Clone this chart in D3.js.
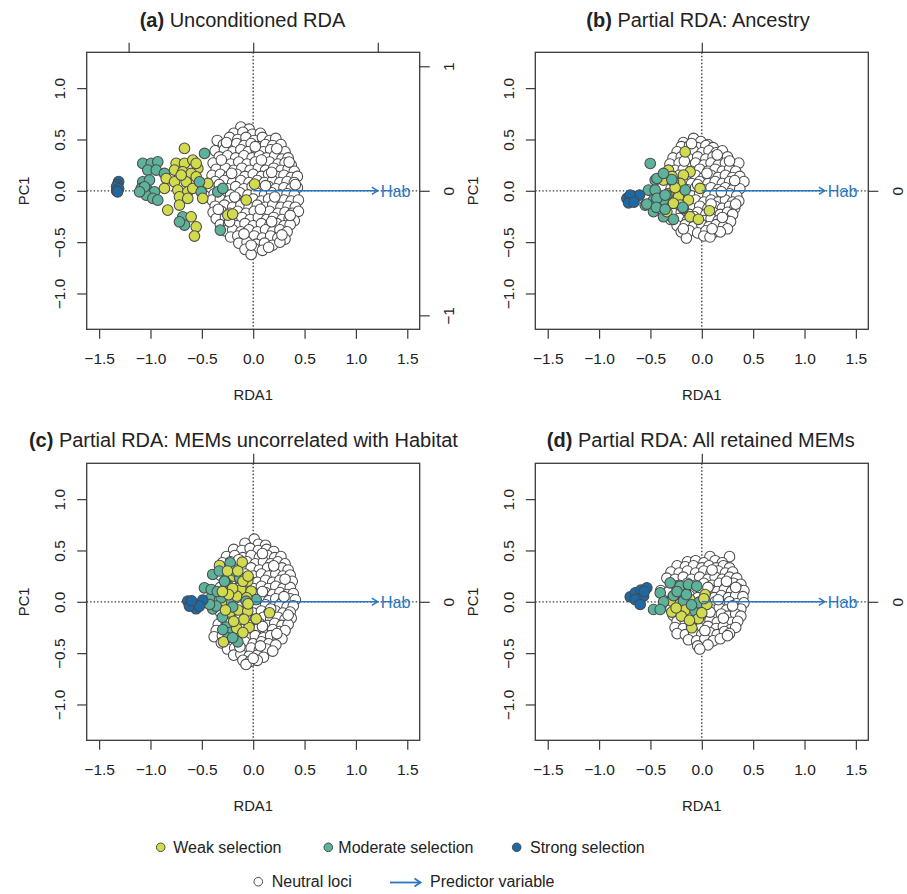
<!DOCTYPE html>
<html>
<head>
<meta charset="utf-8">
<script src="https://cdn.jsdelivr.net/npm/d3@7"></script>
<style>
  body { margin: 0; background: #fff; }
  svg { display: block; }
  text { font-family: "Liberation Sans", Arial, Helvetica, sans-serif; fill: #222; }
</style>
</head>
<body>
<svg id="chart" width="907" height="894"></svg>
<script>
// ---------- data ----------
const panelLetters = ["(a)", "(b)", "(c)", "(d)"];
const panelTitles = [
  "Unconditioned RDA",
  "Partial RDA: Ancestry",
  "Partial RDA: MEMs uncorrelated with Habitat",
  "Partial RDA: All retained MEMs"
];
const xTicks = [-1.5, -1.0, -0.5, 0.0, 0.5, 1.0, 1.5];
const yTicks = [-1.0, -0.5, 0.0, 0.5, 1.0];
// ticks of the predictor (biplot) scale on the top and right sides
const secTicks = [[-1, 0, 1], [0], [0], [0]];
// RDA1 position reached by the Hab arrow (= biplot scale factor)
const habEnd = [1.213, 1.198, 1.213, 1.198];
const predictorName = "Hab";

// (a) Unconditioned RDA
const neutralA = [
[-0.12,0.62],[-0.04,0.60],[-0.19,0.56],[-0.10,0.57],[-0.01,0.55],[0.07,0.56],
[-0.35,0.49],[-0.23,0.52],[-0.15,0.50],[-0.07,0.52],[0.01,0.49],[0.09,0.52],[0.16,0.49],[0.22,0.51],
[-0.29,0.45],[-0.22,0.44],[-0.16,0.46],[-0.09,0.44],[-0.02,0.46],[0.05,0.43],[0.12,0.45],[0.19,0.44],[0.27,0.45],
[-0.37,0.39],[-0.28,0.40],[-0.20,0.38],[-0.12,0.40],[-0.05,0.38],[0.03,0.40],[0.10,0.38],[0.17,0.40],[0.24,0.37],[0.31,0.38],
[-0.33,0.33],[-0.25,0.34],[-0.17,0.32],[-0.09,0.34],[-0.01,0.32],[0.06,0.34],[0.13,0.32],[0.21,0.34],[0.28,0.31],[0.34,0.32],
[-0.39,0.27],[-0.30,0.28],[-0.22,0.26],[-0.14,0.28],[-0.06,0.26],[0.02,0.28],[0.09,0.26],[0.16,0.28],[0.24,0.26],[0.31,0.27],[0.37,0.25],
[-0.36,0.21],[-0.27,0.22],[-0.19,0.20],[-0.11,0.22],[-0.03,0.20],[0.05,0.22],[0.12,0.20],[0.20,0.22],[0.27,0.20],[0.34,0.21],[0.40,0.19],
[-0.40,0.15],[-0.32,0.16],[-0.24,0.14],[-0.16,0.16],[-0.08,0.14],[0.00,0.16],[0.08,0.14],[0.15,0.16],[0.23,0.14],[0.30,0.15],[0.37,0.13],[0.43,0.14],
[-0.37,0.09],[-0.28,0.10],[-0.20,0.08],[-0.12,0.10],[-0.04,0.08],[0.04,0.10],[0.11,0.08],[0.19,0.10],[0.26,0.08],[0.33,0.09],[0.40,0.08],
[-0.41,0.03],[-0.33,0.04],[-0.25,0.02],[-0.17,0.04],[-0.09,0.02],[-0.01,0.04],[0.07,0.02],[0.15,0.04],[0.22,0.02],[0.30,0.03],[0.37,0.02],[0.43,0.03],
[-0.38,-0.03],[-0.30,-0.02],[-0.22,-0.04],[-0.13,-0.02],[-0.05,-0.04],[0.03,-0.02],[0.11,-0.04],[0.18,-0.02],[0.26,-0.04],[0.33,-0.03],[0.40,-0.04],
[-0.40,-0.09],[-0.32,-0.08],[-0.24,-0.10],[-0.16,-0.08],[-0.08,-0.10],[0.00,-0.08],[0.08,-0.10],[0.15,-0.08],[0.23,-0.10],[0.30,-0.09],[0.37,-0.10],[0.44,-0.09],
[-0.37,-0.15],[-0.28,-0.14],[-0.20,-0.16],[-0.12,-0.14],[-0.04,-0.16],[0.04,-0.14],[0.12,-0.16],[0.19,-0.14],[0.27,-0.16],[0.34,-0.15],[0.41,-0.16],
[-0.39,-0.21],[-0.31,-0.20],[-0.23,-0.22],[-0.15,-0.20],[-0.07,-0.22],[0.01,-0.20],[0.09,-0.22],[0.16,-0.20],[0.24,-0.22],[0.31,-0.21],[0.38,-0.22],[0.44,-0.20],
[-0.36,-0.27],[-0.27,-0.26],[-0.19,-0.28],[-0.11,-0.26],[-0.03,-0.28],[0.05,-0.26],[0.13,-0.28],[0.20,-0.26],[0.28,-0.28],[0.35,-0.27],[0.40,-0.29],
[-0.32,-0.33],[-0.24,-0.32],[-0.16,-0.34],[-0.08,-0.32],[0.00,-0.34],[0.08,-0.32],[0.16,-0.34],[0.23,-0.32],[0.30,-0.34],[0.36,-0.33],
[-0.27,-0.39],[-0.20,-0.38],[-0.12,-0.40],[-0.04,-0.38],[0.04,-0.40],[0.12,-0.38],[0.19,-0.40],[0.26,-0.38],[0.33,-0.40],
[-0.22,-0.45],[-0.15,-0.44],[-0.07,-0.46],[0.01,-0.44],[0.09,-0.46],[0.17,-0.44],[0.24,-0.46],[0.31,-0.47],
[-0.14,-0.51],[-0.06,-0.50],[0.03,-0.52],[0.11,-0.51],[0.19,-0.53],[0.26,-0.50],
[-0.08,-0.57],[0.01,-0.56],[0.09,-0.58],[-0.02,-0.62],
[-0.26,0.47],[0.02,0.43],[0.23,0.41],[-0.31,0.30],[0.08,0.30],[0.35,0.28],[-0.21,0.17],[0.18,0.18],
[-0.33,0.06],[0.12,0.05],[0.41,0.06],[-0.18,-0.06],[0.21,-0.06],[-0.34,-0.18],[0.07,-0.18],[0.36,-0.24],
[-0.23,-0.30],[0.18,-0.30],[-0.09,-0.42],[0.28,-0.43],[-0.02,-0.53],[0.15,-0.55]
];
const moderateA = [
[-1.075,0.267],[-0.993,0.267],[-0.929,0.282],[-1.026,0.202],[-0.944,0.202],[-0.864,0.169],
[-1.075,0.088],[-1.010,0.104],[-1.090,0.023],[-1.026,0.007],[-0.961,-0.010],[-1.042,-0.042],
[-0.977,-0.074],[-0.929,-0.091],[-1.058,0.039],[-1.106,-0.010],
[-0.523,0.088],[-0.506,-0.010],[-0.474,0.364],[-0.345,-0.010],[-0.296,0.023],
[-0.686,-0.253],[-0.669,-0.334],[-0.718,-0.302],[-0.320,-0.383]
];
const weakA = [
[-0.669,0.413],[-0.750,0.267],[-0.669,0.267],[-0.588,0.299],[-0.539,0.218],[-0.766,0.202],
[-0.686,0.185],[-0.604,0.169],[-0.847,0.120],[-0.766,0.088],[-0.652,0.088],[-0.555,0.136],
[-0.734,0.007],[-0.637,-0.010],[-0.588,0.023],[-0.442,0.072],[-0.718,-0.058],[-0.637,-0.074],
[-0.491,-0.074],[-0.718,-0.139],[-0.832,-0.188],[-0.604,-0.253],[-0.555,-0.351],[-0.572,-0.441],
[-0.864,0.023],[-0.701,0.153],[-0.555,0.267],[0.013,0.065],[-0.068,-0.090],[-0.247,-0.237],[-0.200,-0.227]
];
const strongA = [
[-1.31,0.09],[-1.32,0.06],[-1.33,0.04],[-1.31,0.02],[-1.33,0.00],[-1.32,-0.01]
];

// (b) Partial RDA: Ancestry
const neutralB = [
[-0.08,0.51],[-0.18,0.47],[-0.01,0.48],[0.06,0.45],
[-0.20,0.43],[-0.12,0.44],[-0.04,0.42],[0.04,0.44],[0.11,0.42],
[-0.24,0.38],[-0.16,0.37],[-0.08,0.39],[0.00,0.37],[0.07,0.39],[0.14,0.37],[0.20,0.39],
[-0.28,0.32],[-0.20,0.33],[-0.12,0.31],[-0.04,0.33],[0.04,0.31],[0.11,0.33],[0.18,0.31],[0.25,0.33],
[-0.31,0.26],[-0.22,0.27],[-0.14,0.25],[-0.06,0.27],[0.02,0.25],[0.09,0.27],[0.16,0.25],[0.23,0.27],[0.30,0.25],[0.36,0.27],
[-0.26,0.20],[-0.18,0.21],[-0.10,0.19],[-0.02,0.21],[0.06,0.19],[0.13,0.21],[0.20,0.19],[0.27,0.21],[0.33,0.19],
[-0.30,0.14],[-0.22,0.15],[-0.14,0.13],[-0.06,0.15],[0.02,0.13],[0.09,0.15],[0.16,0.13],[0.23,0.15],[0.30,0.13],[0.37,0.14],
[-0.26,0.08],[-0.18,0.09],[-0.10,0.07],[-0.02,0.09],[0.06,0.07],[0.13,0.09],[0.20,0.07],[0.27,0.09],[0.34,0.07],[0.41,0.09],
[-0.30,0.02],[-0.22,0.03],[-0.14,0.01],[-0.06,0.03],[0.02,0.01],[0.09,0.03],[0.16,0.01],[0.23,0.03],[0.30,0.01],[0.37,0.02],
[-0.26,-0.04],[-0.18,-0.03],[-0.10,-0.05],[-0.02,-0.03],[0.06,-0.05],[0.13,-0.03],[0.20,-0.05],[0.27,-0.03],[0.34,-0.05],
[-0.30,-0.10],[-0.22,-0.09],[-0.14,-0.11],[-0.06,-0.09],[0.02,-0.11],[0.09,-0.09],[0.16,-0.11],[0.23,-0.09],[0.30,-0.11],[0.36,-0.10],
[-0.26,-0.16],[-0.18,-0.15],[-0.10,-0.17],[-0.02,-0.15],[0.06,-0.17],[0.13,-0.15],[0.20,-0.17],[0.27,-0.15],[0.32,-0.17],
[-0.28,-0.22],[-0.20,-0.21],[-0.12,-0.23],[-0.04,-0.21],[0.04,-0.23],[0.11,-0.21],[0.18,-0.23],[0.25,-0.21],[0.30,-0.23],
[-0.30,-0.28],[-0.22,-0.27],[-0.14,-0.29],[-0.06,-0.27],[0.02,-0.29],[0.09,-0.27],[0.16,-0.29],[0.23,-0.28],[0.28,-0.30],
[-0.24,-0.34],[-0.16,-0.33],[-0.08,-0.35],[0.00,-0.33],[0.07,-0.35],[0.14,-0.33],[0.21,-0.35],[0.25,-0.37],
[-0.20,-0.40],[-0.12,-0.39],[-0.04,-0.41],[0.04,-0.39],[0.11,-0.41],[0.18,-0.40],
[-0.15,-0.46],[0.02,-0.44],[0.08,-0.45],
[-0.10,0.46],[0.15,0.35],[-0.17,0.29],[0.27,0.29],[0.05,0.17],[0.32,0.10],[-0.04,0.06],[0.19,-0.01],
[0.09,-0.13],[0.33,-0.13],[-0.08,-0.25],[0.20,-0.26],[-0.18,-0.37],[0.10,-0.37]
];
const moderateB = [
[-0.502,0.266],[-0.454,0.104],[-0.519,0.007],[-0.470,-0.090],[-0.551,-0.139],[-0.454,-0.139],
[-0.373,-0.253],[-0.470,-0.204],[-0.276,0.088],[-0.162,0.007],[-0.179,-0.171],[-0.340,-0.042],
[-0.373,-0.090],[-0.437,0.120],[-0.454,0.007],[-0.437,-0.074],[-0.357,-0.042],[-0.535,-0.129],
[-0.443,-0.161],[-0.357,-0.180],[-0.276,-0.278],[-0.292,0.110],[-0.373,0.169],[-0.185,-0.161]
];
const weakB = [
[-0.162,0.379],[-0.324,0.201],[-0.114,0.185],[-0.179,0.153],[-0.373,0.104],[-0.211,0.072],
[-0.017,0.023],[-0.324,-0.026],[-0.227,-0.058],[-0.373,-0.107],[-0.130,-0.090],[-0.340,-0.204],
[-0.211,-0.139],[-0.114,-0.253],[-0.033,-0.278],[0.074,-0.194],[-0.276,-0.122],[-0.260,0.030],[-0.290,0.140]
];
const strongB = [
[-0.729,-0.074],[-0.680,-0.097],[-0.648,-0.058],[-0.606,-0.042],[-0.697,-0.042],[-0.713,-0.117],[-0.660,-0.110]
];

// (c) Partial RDA: MEMs uncorrelated with Habitat
const neutralC = [
[0.01,0.61],[-0.08,0.57],[0.05,0.56],[0.12,0.55],
[-0.19,0.51],[-0.11,0.50],[-0.03,0.52],[0.05,0.50],[0.13,0.51],[0.20,0.49],
[-0.26,0.44],[-0.18,0.45],[-0.10,0.43],[-0.02,0.45],[0.06,0.43],[0.14,0.45],[0.21,0.43],[0.27,0.44],
[-0.30,0.38],[-0.22,0.39],[-0.14,0.37],[-0.06,0.39],[0.02,0.37],[0.10,0.39],[0.17,0.37],[0.24,0.39],[0.31,0.37],
[-0.26,0.32],[-0.18,0.33],[-0.10,0.31],[-0.02,0.33],[0.06,0.31],[0.14,0.33],[0.21,0.31],[0.28,0.33],[0.34,0.31],
[-0.32,0.26],[-0.24,0.27],[-0.16,0.25],[-0.08,0.27],[0.00,0.25],[0.08,0.27],[0.15,0.25],[0.22,0.27],[0.29,0.25],[0.36,0.26],
[-0.28,0.20],[-0.20,0.21],[-0.12,0.19],[-0.04,0.21],[0.04,0.19],[0.12,0.21],[0.19,0.19],[0.26,0.21],[0.33,0.19],[0.38,0.20],
[-0.32,0.14],[-0.24,0.15],[-0.16,0.13],[-0.08,0.15],[0.00,0.13],[0.08,0.15],[0.15,0.13],[0.22,0.15],[0.29,0.13],[0.36,0.14],
[-0.28,0.08],[-0.20,0.09],[-0.12,0.07],[-0.04,0.09],[0.04,0.07],[0.12,0.09],[0.19,0.07],[0.26,0.09],[0.33,0.07],[0.39,0.08],
[-0.32,0.02],[-0.24,0.03],[-0.16,0.01],[-0.08,0.03],[0.00,0.01],[0.08,0.03],[0.15,0.01],[0.22,0.03],[0.29,0.01],[0.36,0.03],[0.41,0.02],
[-0.28,-0.04],[-0.20,-0.03],[-0.12,-0.05],[-0.04,-0.03],[0.04,-0.05],[0.12,-0.03],[0.19,-0.05],[0.26,-0.03],[0.33,-0.05],[0.39,-0.04],
[-0.32,-0.10],[-0.24,-0.09],[-0.16,-0.11],[-0.08,-0.09],[0.00,-0.11],[0.08,-0.09],[0.15,-0.11],[0.22,-0.09],[0.29,-0.11],[0.36,-0.10],
[-0.30,-0.16],[-0.22,-0.15],[-0.14,-0.17],[-0.06,-0.15],[0.02,-0.17],[0.10,-0.15],[0.17,-0.17],[0.24,-0.15],[0.31,-0.17],[0.37,-0.16],
[-0.34,-0.22],[-0.26,-0.21],[-0.18,-0.23],[-0.10,-0.21],[-0.02,-0.23],[0.06,-0.21],[0.14,-0.23],[0.21,-0.21],[0.28,-0.23],[0.34,-0.22],
[-0.36,-0.28],[-0.28,-0.27],[-0.20,-0.29],[-0.12,-0.27],[-0.04,-0.29],[0.04,-0.27],[0.12,-0.29],[0.19,-0.27],[0.26,-0.29],[0.31,-0.28],
[-0.38,-0.34],[-0.30,-0.33],[-0.22,-0.35],[-0.14,-0.33],[-0.06,-0.35],[0.02,-0.33],[0.10,-0.35],[0.17,-0.33],[0.24,-0.35],[0.28,-0.36],
[-0.31,-0.40],[-0.24,-0.39],[-0.16,-0.41],[-0.08,-0.39],[0.00,-0.41],[0.08,-0.39],[0.15,-0.41],[0.22,-0.42],
[-0.25,-0.46],[-0.18,-0.45],[-0.10,-0.47],[-0.02,-0.45],[0.06,-0.47],[0.13,-0.46],[0.19,-0.48],
[-0.19,-0.52],[-0.12,-0.51],[-0.04,-0.53],[0.04,-0.52],[0.10,-0.54],
[-0.10,-0.57],[-0.03,-0.58],[0.04,-0.57],[-0.07,-0.61],
[0.09,0.47],[-0.14,0.41],[0.20,0.35],[0.31,0.22],[0.09,0.10],[0.30,0.05],[0.17,-0.07],[0.34,-0.13],
[0.09,-0.24],[0.23,-0.31],[-0.13,-0.44],[0.07,-0.43],[0.00,-0.55]
];
const moderateC = [
[-0.224,0.380],[-0.127,0.234],[-0.394,0.266],[-0.475,0.136],[-0.270,0.185],[-0.410,0.039],
[-0.224,0.006],[0.029,0.022],[-0.394,-0.070],[-0.263,-0.245],[-0.224,-0.300],[-0.150,-0.390],
[-0.280,0.200],[-0.312,0.039],[-0.068,0.006],[-0.360,-0.042],[-0.425,-0.026],[-0.248,-0.351],
[-0.296,-0.270],[-0.409,0.120],[-0.134,0.234],[-0.330,0.300],[-0.180,0.300],[-0.350,0.100],
[-0.200,-0.050],[-0.300,-0.150],[-0.200,-0.350]
];
const weakC = [
[-0.328,0.354],[-0.107,0.386],[-0.263,0.217],[-0.190,0.250],[-0.053,0.201],[-0.120,0.120],
[-0.020,0.103],[-0.328,0.020],[-0.160,0.055],[-0.063,0.039],[-0.310,-0.010],[-0.224,-0.100],
[-0.146,-0.080],[-0.053,-0.090],[0.159,-0.107],[0.029,-0.166],[-0.040,-0.250],[-0.160,-0.260],
[-0.290,-0.390],[-0.200,0.130],[-0.240,0.070],[-0.090,-0.170],[-0.190,-0.190],
[-0.250,0.300],[-0.150,0.300],[-0.300,0.100],[-0.100,0.200],[-0.050,-0.020],[-0.270,-0.080],
[-0.100,-0.300],[-0.050,0.250]
];
const strongC = [
[-0.637,0.006],[-0.589,-0.026],[-0.556,-0.068],[-0.491,0.016],[-0.621,-0.042],[-0.523,-0.042],[-0.600,0.010]
];

// (d) Partial RDA: All retained MEMs
const neutralD = [
[0.08,0.44],[0.27,0.44],
[-0.14,0.39],[-0.06,0.40],[0.02,0.38],[0.13,0.40],[0.20,0.38],
[-0.24,0.35],[-0.16,0.34],[-0.08,0.35],[0.00,0.33],[0.07,0.35],[0.14,0.33],[0.21,0.35],[0.27,0.33],
[-0.30,0.29],[-0.22,0.28],[-0.14,0.30],[-0.06,0.28],[0.02,0.30],[0.09,0.28],[0.16,0.30],[0.23,0.28],[0.30,0.29],
[-0.34,0.23],[-0.26,0.22],[-0.18,0.24],[-0.10,0.22],[-0.02,0.24],[0.06,0.22],[0.13,0.24],[0.20,0.22],[0.27,0.24],[0.34,0.23],
[-0.30,0.17],[-0.22,0.16],[-0.14,0.18],[-0.06,0.16],[0.02,0.18],[0.10,0.16],[0.17,0.18],[0.24,0.16],[0.31,0.18],[0.38,0.17],
[-0.40,0.11],[-0.32,0.10],[-0.24,0.12],[-0.16,0.10],[-0.08,0.12],[0.00,0.10],[0.08,0.12],[0.15,0.10],[0.22,0.12],[0.29,0.10],[0.36,0.12],[0.41,0.11],
[-0.28,0.05],[-0.20,0.04],[-0.12,0.06],[-0.04,0.04],[0.04,0.06],[0.12,0.04],[0.19,0.06],[0.26,0.04],[0.33,0.06],[0.40,0.05],
[-0.34,-0.01],[-0.26,-0.02],[-0.18,0.00],[-0.10,-0.02],[-0.02,0.00],[0.06,-0.02],[0.13,0.00],[0.20,-0.02],[0.27,0.00],[0.34,-0.02],[0.41,-0.01],
[-0.30,-0.07],[-0.22,-0.08],[-0.14,-0.06],[-0.06,-0.08],[0.02,-0.06],[0.10,-0.08],[0.17,-0.06],[0.24,-0.08],[0.31,-0.06],[0.38,-0.07],
[-0.28,-0.13],[-0.20,-0.14],[-0.12,-0.12],[-0.04,-0.14],[0.04,-0.12],[0.12,-0.14],[0.19,-0.12],[0.26,-0.14],[0.33,-0.12],[0.38,-0.14],
[-0.24,-0.19],[-0.16,-0.20],[-0.08,-0.18],[0.00,-0.20],[0.08,-0.18],[0.15,-0.20],[0.22,-0.18],[0.29,-0.20],[0.35,-0.19],
[-0.26,-0.25],[-0.18,-0.26],[-0.10,-0.24],[-0.02,-0.26],[0.06,-0.24],[0.14,-0.26],[0.21,-0.24],[0.28,-0.27],[0.33,-0.25],
[-0.24,-0.31],[-0.16,-0.32],[-0.08,-0.30],[0.00,-0.32],[0.08,-0.30],[0.15,-0.32],[0.22,-0.29],[0.27,-0.31],
[-0.13,-0.37],[-0.05,-0.38],[0.03,-0.36],[0.11,-0.38],[0.18,-0.36],
[-0.04,-0.43],[0.06,-0.42],[-0.02,-0.46],
[0.10,0.31],[0.24,0.20],[0.06,0.14],[0.33,0.14],[0.16,0.02],[0.30,-0.04],[0.08,-0.10],[0.21,-0.16],
[0.03,-0.28],[0.25,-0.33]
];
const moderateD = [
[-0.470,-0.075],[-0.405,0.087],[-0.308,0.185],[-0.211,0.152],[-0.130,0.168],[-0.049,0.152],
[-0.275,0.060],[-0.179,0.006],[-0.065,-0.091],[-0.033,-0.010],[-0.372,0.000],[-0.405,-0.075],
[-0.240,0.100],[-0.150,0.070],[-0.100,-0.030]
];
const weakD = [
[-0.243,0.152],[-0.162,0.120],[0.032,0.071],[-0.292,0.006],[-0.211,-0.020],[-0.114,0.022],
[-0.292,-0.100],[-0.162,-0.080],[-0.033,-0.165],[-0.097,-0.253],[0.049,-0.026],[0.000,-0.107],
[-0.200,-0.140],[-0.120,-0.180],[-0.250,-0.060],[0.020,0.030]
];
const strongD = [
[-0.697,0.049],[-0.648,0.087],[-0.593,0.113],[-0.535,0.136],[-0.600,0.029],[-0.567,0.054],
[-0.648,0.022],[-0.600,-0.026],[-0.560,0.100]
];

const neutralSets = [neutralA, neutralB, neutralC, neutralD];
const moderateSets = [moderateA, moderateB, moderateC, moderateD];
const weakSets = [weakA, weakB, weakC, weakD];
const strongSets = [strongA, strongB, strongC, strongD];

const legendRow1 = ["Weak selection", "Moderate selection", "Strong selection"];
const legendRow2 = ["Neutral loci", "Predictor variable"];

// ---------- styling / layout ----------
const colWeak = "#d2db4e", colModerate = "#5db29c", colStrong = "#1c69a6";
const colArrow = "#2a76c0", colEdge = "#4a4a4a", colAxis = "#3a3a3a";
const boxW = 333, boxH = 277;
const panelPos = [[86.7, 52.3], [535.3, 52.3], [86.7, 463.3], [535.3, 463.3]];
const titleX = [242.5, 698.0, 243.4, 700.8];
const titleY = [26.7, 26.9, 446.7, 446.7];
const ptR = 5.3;

const svg = d3.select("#chart");
const x = d3.scaleLinear().domain([-1.621, 1.621]).range([0, boxW]);
const y = d3.scaleLinear().domain([-1.349, 1.349]).range([boxH, 0]);
const fmt = d3.format(".1f");
const tickFont = "'Liberation Sans', Arial, sans-serif";

// selected loci are plotted in locus order, so weak and moderate ones interleave
function interleave(a, b) {
  const out = [];
  for (let j = 0; j < Math.max(a.length, b.length); j++) {
    if (j < a.length) out.push(a[j]);
    if (j < b.length) out.push(b[j]);
  }
  return out;
}

panelPos.forEach(([px, py], i) => {
  const g = svg.append("g").attr("transform", `translate(${px},${py})`);
  const k = habEnd[i];

  // title
  const t = svg.append("text")
    .attr("x", titleX[i]).attr("y", titleY[i])
    .attr("text-anchor", "middle").style("font-size", "20px");
  t.append("tspan").attr("font-weight", "bold").text(panelLetters[i]);
  t.append("tspan").text(" " + panelTitles[i]);

  // dotted zero lines
  g.append("line").attr("x1", 0).attr("x2", boxW).attr("y1", y(0)).attr("y2", y(0))
    .attr("stroke", "#333").attr("stroke-width", 1.3).attr("stroke-dasharray", "1.4,2.1");
  g.append("line").attr("x1", x(0)).attr("x2", x(0)).attr("y1", 0).attr("y2", boxH)
    .attr("stroke", "#333").attr("stroke-width", 1.3).attr("stroke-dasharray", "1.4,2.1");

  // loci
  const selected = interleave(
    moderateSets[i].map(d => [d[0], d[1], colModerate]),
    weakSets[i].map(d => [d[0], d[1], colWeak])
  );
  const layers = [
    neutralSets[i].map(d => [d[0], d[1], "#ffffff"]),
    selected,
    strongSets[i].map(d => [d[0], d[1], colStrong])
  ];
  layers.forEach(pts => {
    g.append("g").selectAll("circle").data(pts).join("circle")
      .attr("cx", d => x(d[0])).attr("cy", d => y(d[1])).attr("r", ptR)
      .attr("fill", d => d[2]).attr("stroke", colEdge).attr("stroke-width", 1.05);
  });

  // box
  g.append("rect").attr("width", boxW).attr("height", boxH)
    .attr("fill", "none").attr("stroke", colAxis).attr("stroke-width", 1.3);

  // bottom axis
  const ax = g.append("g").attr("transform", `translate(0,${boxH})`)
    .call(d3.axisBottom(x).tickValues(xTicks).tickFormat(fmt).tickSize(9.5).tickPadding(13.8));
  ax.select(".domain").remove();
  ax.selectAll("line").attr("stroke", colAxis).attr("stroke-width", 1.2);
  ax.selectAll("text").style("font-size", "15.5px").attr("fill", "#222").style("font-family", tickFont);

  // left axis with rotated labels
  const ay = g.append("g").call(d3.axisLeft(y).tickValues(yTicks).tickFormat(fmt).tickSize(9.5));
  ay.select(".domain").remove();
  ay.selectAll("line").attr("stroke", colAxis).attr("stroke-width", 1.2);
  ay.selectAll("text").attr("x", null).attr("dy", "0.35em")
    .attr("text-anchor", "middle").attr("transform", "translate(-26.7,0) rotate(-90)")
    .style("font-size", "15.5px").attr("fill", "#222").style("font-family", tickFont);

  // biplot scale: top and right ticks
  const sx = d3.scaleLinear().domain([x.domain()[0] / k, x.domain()[1] / k]).range([0, boxW]);
  const sy = d3.scaleLinear().domain([y.domain()[0] / k, y.domain()[1] / k]).range([boxH, 0]);
  const at = g.append("g").call(d3.axisTop(sx).tickValues(secTicks[i]).tickSize(9.5).tickFormat(""));
  at.select(".domain").remove();
  at.selectAll("line").attr("stroke", colAxis).attr("stroke-width", 1.2);
  const ar = g.append("g").attr("transform", `translate(${boxW},0)`)
    .call(d3.axisRight(sy).tickValues(secTicks[i]).tickSize(10).tickFormat(d3.format("d")));
  ar.select(".domain").remove();
  ar.selectAll("line").attr("stroke", colAxis).attr("stroke-width", 1.2);
  ar.selectAll("text").attr("x", null).attr("dy", "0.35em")
    .attr("text-anchor", "middle").attr("transform", "translate(29.2,0) rotate(-90)")
    .style("font-size", "15.5px").attr("fill", "#222").style("font-family", tickFont);

  // axis titles
  g.append("text").attr("x", x(0)).attr("y", boxH + 70.5).attr("text-anchor", "middle")
    .style("font-size", "14.8px").text("RDA1");
  g.append("text").attr("transform", `translate(-62.5,${y(0)}) rotate(-90)`)
    .attr("text-anchor", "middle").attr("dy", "0.35em").style("font-size", "14.8px").text("PC1");

  // predictor arrow: loading 1 on the biplot scale
  const yy = y(0);
  const xs = sx(0), xe = sx(1);
  g.append("line").attr("x1", xs).attr("y1", yy).attr("x2", xe).attr("y2", yy)
    .attr("stroke", colArrow).attr("stroke-width", 1.4);
  g.append("path").attr("d", `M${xe - 6},${yy - 3.6}L${xe},${yy}L${xe - 6},${yy + 3.6}`)
    .attr("fill", "none").attr("stroke", colArrow).attr("stroke-width", 1.4);
  g.append("text").attr("x", xe + 3).attr("y", yy).attr("dy", "0.36em")
    .style("font-size", "16.2px").style("fill", colArrow).text(predictorName);
});

// ---------- legend ----------
const lg = svg.append("g");
const row1 = [
  [160.7, 173.3, colWeak],
  [328.3, 338.3, colModerate],
  [516.7, 530.0, colStrong]
];
row1.forEach(([cx, tx, c], j) => {
  lg.append("circle").attr("cx", cx).attr("cy", 847.3).attr("r", 4.3)
    .attr("fill", c).attr("stroke", colEdge).attr("stroke-width", 1);
  lg.append("text").attr("x", tx).attr("y", 853.3).style("font-size", "16px").text(legendRow1[j]);
});
lg.append("circle").attr("cx", 258.3).attr("cy", 881.7).attr("r", 4.3)
  .attr("fill", "#fff").attr("stroke", colEdge).attr("stroke-width", 1);
lg.append("text").attr("x", 271.7).attr("y", 887.2).style("font-size", "16px").text(legendRow2[0]);
lg.append("line").attr("x1", 390).attr("x2", 420.5).attr("y1", 882.5).attr("y2", 882.5)
  .attr("stroke", colArrow).attr("stroke-width", 1.8);
lg.append("path").attr("d", "M414.5,878.6L420.5,882.5L414.5,886.4")
  .attr("fill", "none").attr("stroke", colArrow).attr("stroke-width", 1.8);
lg.append("text").attr("x", 430).attr("y", 887.2).style("font-size", "16px").text(legendRow2[1]);
</script>
</body>
</html>
